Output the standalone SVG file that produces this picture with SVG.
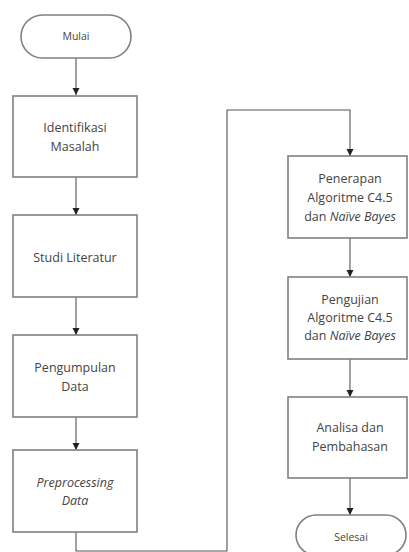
<svg xmlns="http://www.w3.org/2000/svg" width="409" height="552" viewBox="0 0 409 552">
<style>
.box{fill:#fff;stroke:#808080;stroke-width:1.6}
.t{font-family:"Open Sans","Liberation Sans",sans-serif;font-size:12.5px;fill:#444;text-anchor:middle}
.s{font-size:10.5px}
.i{font-style:italic}
.c{fill:none;stroke:#555;stroke-width:1.1}
</style>
<defs>
<marker id="a" markerWidth="8" markerHeight="8" refX="7" refY="4" orient="auto" markerUnits="userSpaceOnUse">
<path d="M0,0.5 L7,4 L0,7.5 Z" fill="#222"/>
</marker>
</defs>
<rect width="409" height="552" fill="#fff"/>
<g id="connectors">
<line class="c" x1="76" y1="58" x2="76" y2="95" marker-end="url(#a)"/>
<line class="c" x1="76" y1="177" x2="76" y2="215" marker-end="url(#a)"/>
<line class="c" x1="76" y1="297" x2="76" y2="335" marker-end="url(#a)"/>
<line class="c" x1="76" y1="417" x2="76" y2="450" marker-end="url(#a)"/>
<polyline class="c" points="76,532 76,551 227,551 227,110 350,110 350,156" marker-end="url(#a)"/>
<line class="c" x1="350" y1="238" x2="350" y2="277" marker-end="url(#a)"/>
<line class="c" x1="350" y1="359" x2="350" y2="397" marker-end="url(#a)"/>
<line class="c" x1="350" y1="478" x2="350" y2="515" marker-end="url(#a)"/>
</g>
<g id="mulai">
<rect class="box" x="21" y="15" width="110" height="43" rx="21.5"/>
<text class="t s" x="76" y="40">Mulai</text>
</g>
<g id="identifikasi">
<rect class="box" x="13" y="96" width="124" height="81"/>
<text class="t" x="75" y="132">Identifikasi</text>
<text class="t" x="75" y="151">Masalah</text>
</g>
<g id="studi">
<rect class="box" x="13" y="215" width="124" height="82"/>
<text class="t" x="75" y="262">Studi Literatur</text>
</g>
<g id="pengumpulan">
<rect class="box" x="13" y="335" width="124" height="82"/>
<text class="t" x="75" y="372">Pengumpulan</text>
<text class="t" x="75" y="391">Data</text>
</g>
<g id="preprocessing">
<rect class="box" x="13" y="450" width="124" height="82"/>
<text class="t i" x="75" y="487">Preprocessing</text>
<text class="t i" x="75" y="505">Data</text>
</g>
<g id="penerapan">
<rect class="box" x="288" y="156" width="119" height="82"/>
<text class="t" x="350" y="183">Penerapan</text>
<text class="t" x="350" y="202">Algoritme C4.5</text>
<text class="t" x="350" y="221">dan <tspan class="i">Naïve Bayes</tspan></text>
</g>
<g id="pengujian">
<rect class="box" x="288" y="277" width="119" height="82"/>
<text class="t" x="350" y="304">Pengujian</text>
<text class="t" x="350" y="322">Algoritme C4.5</text>
<text class="t" x="350" y="340">dan <tspan class="i">Naïve Bayes</tspan></text>
</g>
<g id="analisa">
<rect class="box" x="288" y="397" width="119" height="81"/>
<text class="t" x="350" y="432">Analisa dan</text>
<text class="t" x="350" y="451">Pembahasan</text>
</g>
<g id="selesai">
<rect class="box" x="296" y="515" width="110" height="40" rx="20"/>
<text class="t s" x="351" y="541">Selesai</text>
</g>
</svg>
